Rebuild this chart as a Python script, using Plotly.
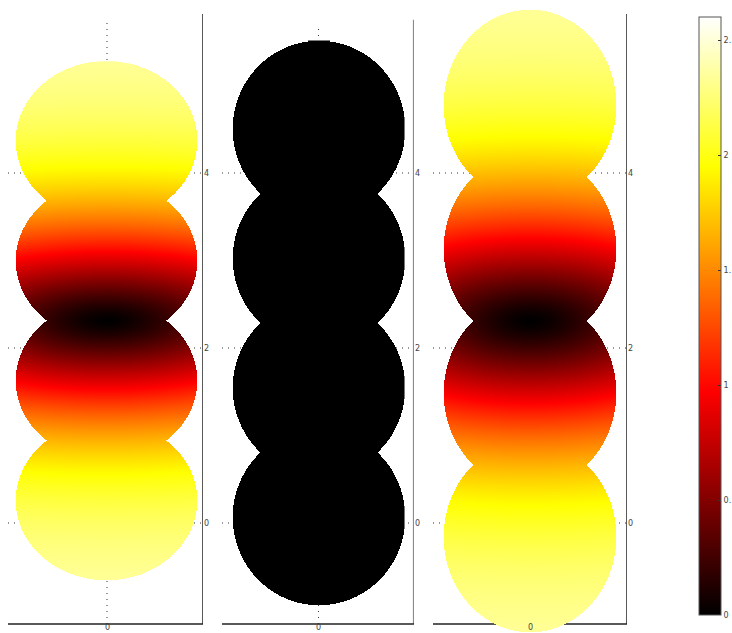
import numpy as np
import plotly.graph_objects as go

# ---------------- data ----------------
# centres (y) of the four spheres in each of the three panels, and their radii
sphere_centers = [
    [0.253, 1.624, 2.995, 4.366],
    [0.072, 1.551, 3.030, 4.510],
    [-0.152, 1.492, 3.136, 4.780],
]
sphere_radius = [0.913, 1.009, 1.094]
# colour field: value = amp * (1 - exp(-(u / lam) ** k)), u = normalised distance from middle junction
field_amp = [2.4, 0.0, 2.4]
field_lam = [0.9, 0.9, 0.9]
field_k = [1.45, 1.45, 1.45]
x_weight = 0.15

y_tick_vals = [0, 2, 4]
y_tick_text = ["0", "2", "4"]
x_tick_text = "0"
cbar_tick_vals = [0, 0.5, 1, 1.5, 2, 2.5]
cbar_tick_text = ["0", "0.", "1", "1.", "2", "2."]
c_min, c_max = 0.0, 2.6

# ---------------- layout constants ----------------
W, H = 732, 633
x_ranges = [[-0.993, 0.963], [-1.126, 1.114], [-1.233, 1.220]]
x_domains_px = [[8, 203], [222, 414], [433, 627]]
y_range = [-1.257, 5.977]
y_base = -1.154
y_tops = [5.817, 5.75, 5.817]
grid_tops = [5.76, 5.69, 5.817]
right_line_colors = ["#222222", "#8a8a8a", "#222222"]
right_line_widths = [1.5, 2.2, 1.5]

hot = [[0.0, "rgb(0,0,0)"], [0.375, "rgb(255,0,0)"],
       [0.75, "rgb(255,255,0)"], [1.0, "rgb(255,255,255)"]]

fig = go.Figure()
shapes = []
annotations = []
ky = H / (y_range[1] - y_range[0])

for i in range(3):
    n = "" if i == 0 else str(i + 1)
    xa, ya = "x" + n, "y" + n
    r = sphere_radius[i]
    cs = np.array(sphere_centers[i])
    x0, x1 = x_ranges[i]
    kx = (x_domains_px[i][1] - x_domains_px[i][0]) / (x1 - x0)
    xs = np.arange(-r, r + 1e-9, 1.0 / kx)
    ys = np.arange(cs.min() - r, cs.max() + r + 1e-9, 1.0 / ky)
    X, Y = np.meshgrid(xs, ys)
    inside = np.zeros_like(X, dtype=bool)
    for c in cs:
        inside |= X ** 2 + (Y - c) ** 2 < r * r * 0.995
    yc = (cs[1] + cs[2]) / 2
    s = cs[2] - cs[1]
    u = np.sqrt(((Y - yc) / s) ** 2 + x_weight * (X / s) ** 2)
    v = field_amp[i] * (1 - np.exp(-(u / field_lam[i]) ** field_k[i]))
    z = np.where(inside, v, np.nan).astype(np.float32)
    fig.add_trace(go.Heatmap(x=xs, y=ys, z=z, coloraxis="coloraxis",
                             xaxis=xa, yaxis=ya, hoverinfo="skip",
                             zsmooth=False, showscale=(i == 0)))

    fig.layout["xaxis" + n] = dict(domain=[x_domains_px[i][0] / W, x_domains_px[i][1] / W],
                                   range=x_ranges[i], visible=False, anchor=ya)
    fig.layout["yaxis" + n] = dict(domain=[0, 1], range=y_range, anchor=xa, side="right",
                                   tickmode="array", tickvals=y_tick_vals, ticktext=y_tick_text,
                                   ticks="", showgrid=False, zeroline=False, showline=False,
                                   tickfont=dict(size=8, color="#444", family="DejaVu Sans"))
    dot = dict(color="#333", width=1, dash="1px,5px")
    # grid
    shapes.append(dict(type="line", xref=xa, yref=ya, x0=0, x1=0, y0=y_base, y1=grid_tops[i],
                       line=dot, layer="below"))
    for t in y_tick_vals:
        shapes.append(dict(type="line", xref=xa, yref=ya, x0=x0, x1=x1, y0=t, y1=t,
                           line=dot, layer="below"))
    # axis lines
    shapes.append(dict(type="line", xref=xa, yref=ya, x0=x1, x1=x1, y0=y_base, y1=y_tops[i],
                       line=dict(color=right_line_colors[i], width=right_line_widths[i]), layer="below"))
    shapes.append(dict(type="line", xref=xa, yref=ya, x0=x0, x1=x1, y0=y_base, y1=y_base,
                       line=dict(color="#222", width=1.5), layer="below"))
    annotations.append(dict(x=0, y=y_range[0], xref=xa, yref=ya, text=x_tick_text, showarrow=False,
                            yanchor="bottom", xanchor="center", borderpad=0,
                            font=dict(size=8, color="#444", family="DejaVu Sans")))

# colorbar left-edge ticks
cb_left = 699
cb_bottom, cb_top = 615, 17
for t in cbar_tick_vals[1:]:
    py = cb_bottom - t * (cb_bottom - cb_top) / (c_max - c_min)
    shapes.append(dict(type="line", xref="paper", yref="paper", x0=cb_left / W, x1=(cb_left + 3) / W,
                       y0=1 - py / H, y1=1 - py / H, line=dict(color="#333", width=1)))

fig.update_layout(
    width=W, height=H, margin=dict(l=0, r=0, t=0, b=0, autoexpand=False),
    paper_bgcolor="white", plot_bgcolor="white", showlegend=False,
    shapes=shapes, annotations=annotations,
    coloraxis=dict(colorscale=hot, cmin=c_min, cmax=c_max,
                   colorbar=dict(x=cb_left / W, xanchor="left", xpad=0, ypad=0,
                                 y=1 - (cb_bottom + cb_top) / 2 / H, yanchor="middle",
                                 len=(cb_bottom - cb_top) / H, lenmode="fraction",
                                 thickness=22, outlinecolor="#555", outlinewidth=1,
                                 tickmode="array", tickvals=cbar_tick_vals, ticktext=cbar_tick_text,
                                 ticks="inside", ticklen=3, tickcolor="#333",
                                 tickfont=dict(size=8, color="#444", family="DejaVu Sans"))),
)

fig.write_html("out.html", config={"displayModeBar": False},
               post_script="document.body.style.margin='0px';")
